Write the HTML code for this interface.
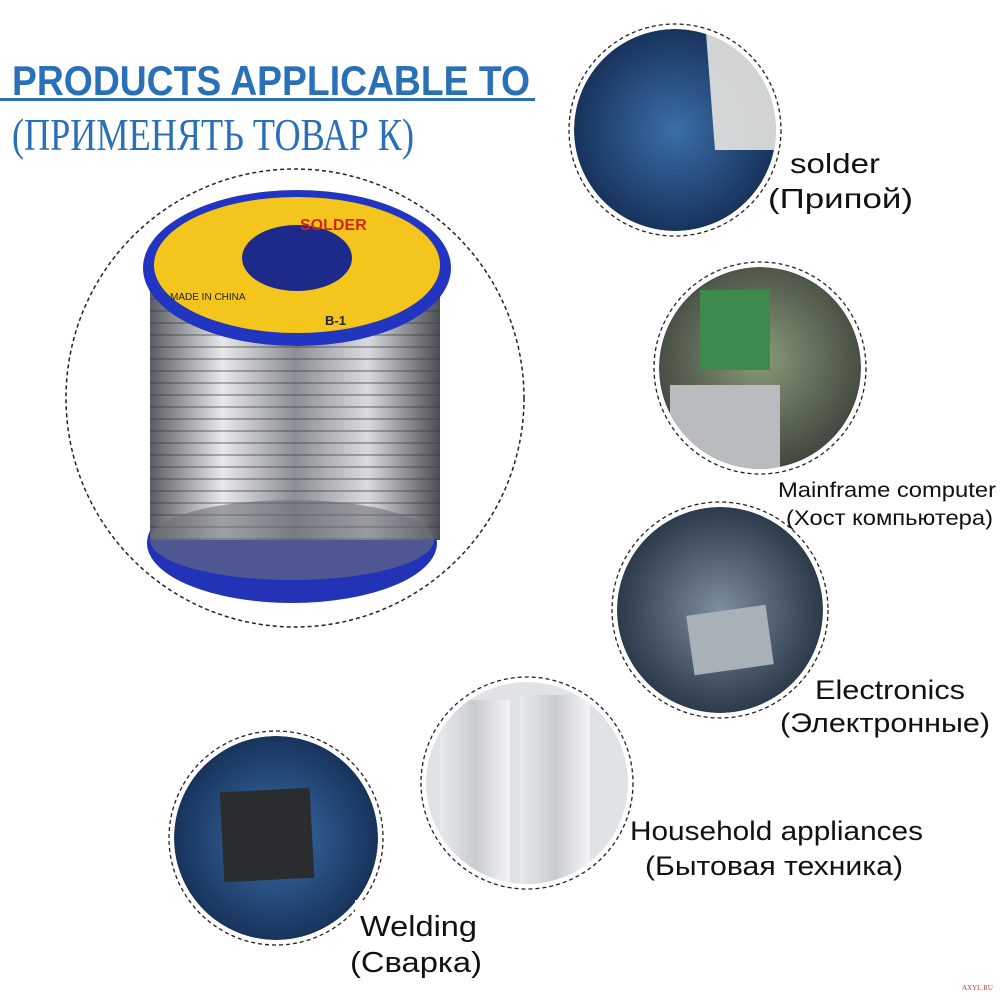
<!DOCTYPE html>
<html><head><meta charset="utf-8"><style>
html,body{margin:0;padding:0;background:#fff}
svg{display:block}
text{font-family:"Liberation Sans",sans-serif}
</style></head><body>
<svg width="1000" height="1000" viewBox="0 0 1000 1000" xmlns="http://www.w3.org/2000/svg">
<defs>
<radialGradient id="pcb" cx="50%" cy="50%" r="60%"><stop offset="0" stop-color="#3b6ea8"/><stop offset="1" stop-color="#10284d"/></radialGradient>
<radialGradient id="pc" cx="50%" cy="45%" r="60%"><stop offset="0" stop-color="#8a9a78"/><stop offset="1" stop-color="#3a3f3a"/></radialGradient>
<radialGradient id="el" cx="50%" cy="50%" r="60%"><stop offset="0" stop-color="#7d8e9e"/><stop offset="1" stop-color="#1c2a3a"/></radialGradient>
<linearGradient id="fr" x1="0" x2="1"><stop offset="0" stop-color="#e6e9ec"/><stop offset="0.5" stop-color="#c8ccd1"/><stop offset="1" stop-color="#f3f4f6"/></linearGradient>
<linearGradient id="wire" x1="0" x2="1"><stop offset="0" stop-color="#5a5d63"/><stop offset="0.25" stop-color="#e6e8ea"/><stop offset="0.5" stop-color="#8b8f95"/><stop offset="0.75" stop-color="#d9dbde"/><stop offset="1" stop-color="#4b4e54"/></linearGradient>
<pattern id="coil" width="10" height="12" patternUnits="userSpaceOnUse"><line x1="0" y1="11" x2="10" y2="11" stroke="#3a3c40" stroke-width="1.5" opacity="0.5"/></pattern>
<clipPath id="c1"><circle cx="675" cy="130" r="101"/></clipPath>
<clipPath id="c2"><circle cx="760" cy="368" r="101"/></clipPath>
<clipPath id="c3"><circle cx="720" cy="610" r="103"/></clipPath>
<clipPath id="c4"><circle cx="527" cy="783" r="101"/></clipPath>
<clipPath id="c5"><circle cx="276" cy="838" r="102"/></clipPath>
</defs>

<text x="12" y="95" font-size="42" font-weight="bold" fill="#2a70b8" textLength="518" lengthAdjust="spacingAndGlyphs">PRODUCTS APPLICABLE TO</text>
<rect x="0" y="98" width="535" height="3" fill="#2a70b8"/>
<text x="12" y="150" font-size="46" fill="#2a70b8" style="font-family:'Liberation Serif',serif" textLength="402" lengthAdjust="spacingAndGlyphs">(ПРИМЕНЯТЬ ТОВАР К)</text>

<circle cx="295" cy="398" r="229" fill="#fff" stroke="#222" stroke-width="1.5" stroke-dasharray="4 3"/>
<ellipse cx="292" cy="543" rx="145" ry="60" fill="#2233b8"/>
<rect x="150" y="290" width="290" height="250" fill="url(#wire)"/>
<rect x="150" y="290" width="290" height="250" fill="url(#coil)"/>
<ellipse cx="292" cy="540" rx="142" ry="40" fill="#6d7076" opacity="0.6"/>
<ellipse cx="297" cy="268" rx="154" ry="78" fill="#2235c0"/>
<ellipse cx="297" cy="265" rx="143" ry="68" fill="#f4c51c"/>
<ellipse cx="297" cy="258" rx="55" ry="33" fill="#1d2a8a"/>
<text x="300" y="230" font-size="16" font-weight="bold" fill="#d2261c">SOLDER</text>
<text x="325" y="325" font-size="13" font-weight="bold" fill="#222">B-1</text>
<text x="170" y="300" font-size="10" fill="#222">MADE IN CHINA</text>

<circle cx="675" cy="130" r="106" fill="#fff" stroke="#222" stroke-width="1.3" stroke-dasharray="4 3"/>
<g clip-path="url(#c1)"><circle cx="675" cy="130" r="101" fill="url(#pcb)"/>
<path d="M705 20 L790 40 L790 150 L715 150 Z" fill="#e6e6e0" opacity="0.9"/></g>
<text x="790" y="173" font-size="28" fill="#111" textLength="90" lengthAdjust="spacingAndGlyphs">solder</text>
<text x="768" y="208" font-size="28" fill="#111" textLength="145" lengthAdjust="spacingAndGlyphs">(Припой)</text>

<circle cx="760" cy="368" r="106" fill="#fff" stroke="#222" stroke-width="1.3" stroke-dasharray="4 3"/>
<g clip-path="url(#c2)"><circle cx="760" cy="368" r="101" fill="url(#pc)"/>
<rect x="700" y="290" width="70" height="80" fill="#3c8a4c"/>
<rect x="670" y="385" width="110" height="90" fill="#b8bcbf"/></g>
<text x="778" y="497" font-size="21" fill="#111" textLength="218" lengthAdjust="spacingAndGlyphs">Mainframe computer</text>
<text x="786" y="525" font-size="21" fill="#111" textLength="207" lengthAdjust="spacingAndGlyphs">(Хост компьютера)</text>

<circle cx="720" cy="610" r="108" fill="#fff" stroke="#222" stroke-width="1.3" stroke-dasharray="4 3"/>
<g clip-path="url(#c3)"><circle cx="720" cy="610" r="103" fill="url(#el)"/>
<rect x="690" y="610" width="80" height="60" fill="#a8b0b8" transform="rotate(-8 730 640)"/></g>
<text x="815" y="699" font-size="27" fill="#111" textLength="150" lengthAdjust="spacingAndGlyphs">Electronics</text>
<text x="780" y="732" font-size="27" fill="#111" textLength="210" lengthAdjust="spacingAndGlyphs">(Электронные)</text>

<circle cx="527" cy="783" r="106" fill="#fff" stroke="#222" stroke-width="1.3" stroke-dasharray="4 3"/>
<g clip-path="url(#c4)"><circle cx="527" cy="783" r="101" fill="#dfe2e6"/>
<rect x="440" y="700" width="70" height="190" fill="url(#fr)"/>
<rect x="520" y="695" width="70" height="195" fill="url(#fr)"/></g>
<text x="630" y="840" font-size="27" fill="#111" textLength="293" lengthAdjust="spacingAndGlyphs">Household appliances</text>
<text x="645" y="875" font-size="27" fill="#111" textLength="258" lengthAdjust="spacingAndGlyphs">(Бытовая техника)</text>

<circle cx="276" cy="838" r="107" fill="#fff" stroke="#222" stroke-width="1.3" stroke-dasharray="4 3"/>
<g clip-path="url(#c5)"><circle cx="276" cy="838" r="102" fill="url(#pcb)"/>
<rect x="222" y="790" width="90" height="90" fill="#2a2c30" transform="rotate(-3 267 835)"/></g>
<rect x="355" y="900" width="125" height="75" fill="#fff"/>
<text x="360" y="936" font-size="29" fill="#111" textLength="117" lengthAdjust="spacingAndGlyphs">Welding</text>
<text x="350" y="972" font-size="29" fill="#111" textLength="132" lengthAdjust="spacingAndGlyphs">(Сварка)</text>

<text x="962" y="990" font-size="7" fill="#c0392b" style="font-family:'Liberation Serif',serif">AXYL.RU</text>
</svg>
</body></html>
